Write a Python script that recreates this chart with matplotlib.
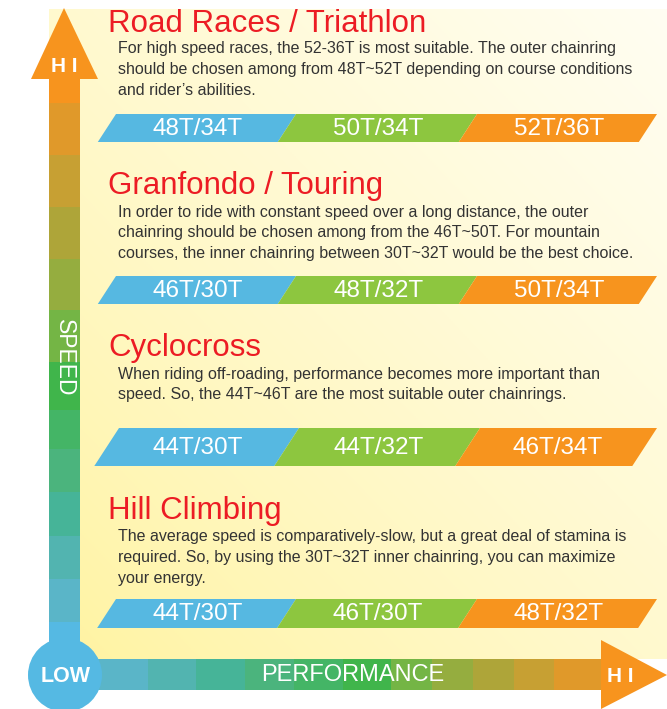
import numpy as np
import matplotlib.pyplot as plt
from matplotlib.patches import Polygon, Rectangle, Circle

# --- Content ---
titles = ["Road Races / Triathlon", "Granfondo / Touring", "Cyclocross", "Hill Climbing"]
descriptions = [
    ["For high speed races, the 52-36T is most suitable. The outer chainring",
     "should be chosen among from 48T~52T depending on course conditions",
     "and rider\u2019s abilities."],
    ["In order to ride with constant speed over a long distance, the outer",
     "chainring should be chosen among from the 46T~50T. For mountain",
     "courses, the inner chainring between 30T~32T would be the best choice."],
    ["When riding off-roading, performance becomes more important than",
     "speed. So, the 44T~46T are the most suitable outer chainrings."],
    ["The average speed is comparatively-slow, but a great deal of stamina is",
     "required. So, by using the 30T~32T inner chainring, you can maximize",
     "your energy."],
]
gears = [
    ["48T/34T", "50T/34T", "52T/36T"],
    ["46T/30T", "48T/32T", "50T/34T"],
    ["44T/30T", "44T/32T", "46T/34T"],
    ["44T/30T", "46T/30T", "48T/32T"],
]
gear_colors = ["#56B8E1", "#8DC63F", "#F7941E"]

# scale colours, from LOW (blue) to HI (orange)
scale_colors = ["#5AB5C8", "#52B4B0", "#46B498", "#4BB47D", "#44B566", "#40B54B",
                "#74B545", "#95AD3F", "#AEA539", "#C7A033", "#E0992A"]
blue = "#55B9E3"
orange = "#F7941E"

# --- Layout (pixels) ---
W, H = 667, 709
title_base = [32, 194, 356, 519]
body_y = [48, 211, 373, 536]
band_y = [(114, 142), (276, 304), (428, 466), (599, 628)]
band_top_x = [116, 296, 477, 657]
band_shift = [0, 0, 3, 0]
slant = 0.65
vbar = (49, 80)
v_edges = [622, 579, 536, 492, 449, 410, 362, 310, 259, 207, 155, 103]
hbar = (659, 690)
h_edges = [80, 148, 196, 245, 294, 343, 391, 432, 473, 514, 554, 602]

fig = plt.figure(figsize=(W / 100, H / 100), dpi=100)
ax = fig.add_axes([0, 0, 1, 1])
ax.set_xlim(0, W)
ax.set_ylim(H, 0)
ax.axis("off")

# background gradient
gx, gy = np.meshgrid(np.linspace(0, 1, 300), np.linspace(0, 1, 300))
t = np.clip((gx + (1 - gy)) / 2, 0, 1) ** 0.8
c0 = np.array([1.0, 0.953, 0.62])
c1 = np.array([1.0, 0.995, 0.95])
grad = c0 + (c1 - c0) * t[..., None]
ax.imshow(grad, extent=(vbar[0], W, hbar[0], 9), aspect="auto", zorder=0)

sans = ["Liberation Sans", "DejaVu Sans"]

# sections
for i in range(len(titles)):
    ax.text(108, title_base[i], titles[i], color="#EC1C24", fontsize=22.5,
            family=sans, va="baseline", ha="left")
    for j, line in enumerate(descriptions[i]):
        ax.text(118, body_y[i] + 1 + j * 20.8, line, color="#333333", fontsize=11.5,
                family=sans, va="center", ha="left")
    y0, y1 = band_y[i]
    s = slant * (y1 - y0)
    for k in range(3):
        xl = band_top_x[k] + band_shift[i]
        xr = band_top_x[k + 1] + band_shift[i] * (k < 2)
        poly = Polygon([(xl, y0), (xr, y0), (xr - s, y1), (xl - s, y1)],
                       closed=True, facecolor=gear_colors[k], edgecolor="none", zorder=2)
        ax.add_patch(poly)
        ax.text((xl + xr - s) / 2 + 1, (y0 + y1) / 2 + 1, gears[i][k], color="white",
                fontsize=17.5, family=sans, ha="center", va="center", zorder=3)

# vertical SPEED axis
ax.add_patch(Polygon([(64, 8), (31, 79), (98, 79)], closed=True,
                     facecolor=orange, edgecolor="none", zorder=2))
ax.add_patch(Rectangle((vbar[0], 78), vbar[1] - vbar[0], v_edges[-1] - 78,
                       facecolor=orange, edgecolor="none", zorder=2))
ax.add_patch(Rectangle((vbar[0], v_edges[0]), vbar[1] - vbar[0], hbar[0] - v_edges[0],
                       facecolor=blue, edgecolor="none", zorder=2))
for k in range(len(scale_colors)):
    ax.add_patch(Rectangle((vbar[0], v_edges[k + 1]), vbar[1] - vbar[0],
                           v_edges[k] - v_edges[k + 1], facecolor=scale_colors[k],
                           edgecolor="none", zorder=2))

# horizontal PERFORMANCE axis
for k in range(len(scale_colors)):
    ax.add_patch(Rectangle((h_edges[k], hbar[0]), h_edges[k + 1] - h_edges[k],
                           hbar[1] - hbar[0], facecolor=scale_colors[k],
                           edgecolor="none", zorder=2))
ax.add_patch(Rectangle((h_edges[-1] - 1, hbar[0]), 3, hbar[1] - hbar[0],
                       facecolor=orange, edgecolor="none", zorder=2))
ax.add_patch(Polygon([(601, 640), (667, 675), (601, 709)], closed=True,
                     facecolor=orange, edgecolor="none", zorder=2))
ax.add_patch(Circle((65, 675), 37, facecolor=blue, edgecolor="none", zorder=3))

ax.text(64, 66, "H I", color="white", fontsize=15, fontweight="bold",
        family=sans, ha="center", va="center", zorder=4)
ax.text(66, 676, "LOW", color="white", fontsize=15.5, fontweight="bold",
        family=sans, ha="center", va="center", zorder=4)
ax.text(620, 677, "H I", color="white", fontsize=15, fontweight="bold",
        family=sans, ha="center", va="center", zorder=4)
ax.text(353, 675, "PERFORMANCE", color="white", fontsize=17,
        family=sans, ha="center", va="center", zorder=4)
ax.text(64, 358, "SPEED", color="white", fontsize=16.5, rotation=-90,
        family=sans, ha="center", va="center", zorder=4)

fig.savefig("out.png", dpi=100)
